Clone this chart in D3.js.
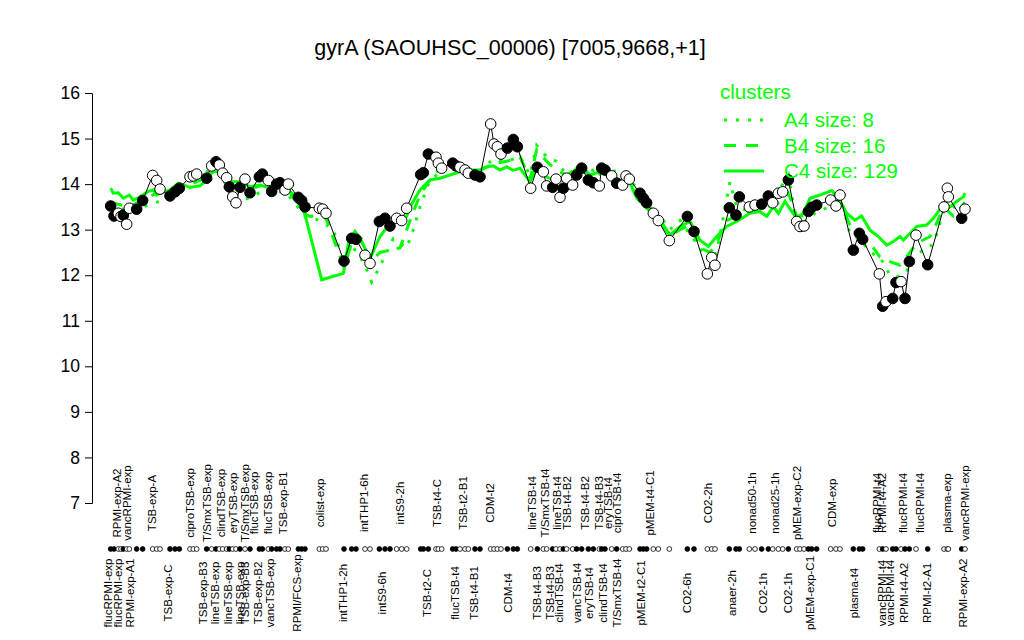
<!DOCTYPE html>
<html><head><meta charset="utf-8">
<script src="https://cdn.jsdelivr.net/npm/d3@7"></script>
<style>body{margin:0;background:#fff}svg{display:block}text{font-family:"Liberation Sans",Arial,Helvetica,sans-serif}</style>
</head><body>
<svg id="c" width="1024" height="640"></svg>
<script>
// sample positions (ordered condition index with gaps between groups)
const samplePos = [3.2,4.2,5.5,6.3,7.0,8.0,8.8,11.0,12.8,15.8,17.0,18.0,21.0,22.5,23.8,27.0,28.0,29.0,32.0,33.5,34.8,35.8,36.8,38.0,38.8,39.8,40.8,42.0,43.5,45.0,47.8,48.7,50.5,51.5,53.0,54.0,55.5,56.5,59.5,60.5,61.5,65.8,66.8,67.8,73.2,75.5,76.8,79.5,81.0,83.8,85.5,87.0,89.0,90.5,92.0,96.2,97.0,98.5,100.8,101.5,102.5,105.8,106.8,108.0,109.5,110.5,112.5,114.0,117.2,118.2,119.2,120.3,122.2,124.0,125.2,129.2,131.2,133.0,134.0,135.8,136.8,138.0,139.0,140.0,141.8,143.0,144.5,146.5,148.0,149.8,150.5,151.5,153.5,155.0,156.8,157.8,158.8,162.0,163.0,164.0,166.0,167.5,170.8,176.2,178.2,182.2,183.5,184.5,188.8,190.8,191.8,194.8,196.5,198.5,200.5,201.8,203.5,204.8,206.5,209.0,210.0,211.2,212.5,213.5,215.0,219.2,220.8,222.0,226.0,227.8,228.8,233.8,234.8,235.8,237.8,238.8,240.3,241.5,242.8,244.8,248.3,253.2,254.2,254.5,258.5,259.5];
// gyrA expression (log2)
const sampleValue = [13.52,13.30,13.36,13.29,13.32,13.12,13.47,13.45,13.64,14.19,14.08,13.89,13.74,13.83,13.91,14.16,14.18,14.22,14.13,14.40,14.49,14.42,14.24,14.14,13.94,13.72,13.59,13.93,14.11,13.81,14.16,14.22,14.08,13.84,14.00,14.03,13.87,14.00,13.71,13.64,13.50,13.47,13.45,13.36,12.31,12.81,12.79,12.44,12.26,13.18,13.25,13.08,13.25,13.20,13.47,14.21,14.25,14.66,14.59,14.46,14.35,14.46,14.40,14.37,14.31,14.24,14.20,14.16,15.32,14.88,14.82,14.66,14.79,14.98,14.82,13.91,14.37,14.27,13.96,13.93,14.11,13.71,13.91,14.13,13.98,14.20,14.35,14.09,14.03,13.96,14.35,14.31,14.18,14.02,13.98,14.18,14.11,13.80,13.69,13.59,13.36,13.20,12.76,13.29,12.96,12.03,12.39,12.22,13.48,13.32,13.72,13.50,13.54,13.56,13.74,13.59,13.80,13.83,14.09,13.18,13.07,13.08,13.40,13.49,13.54,13.65,13.52,13.76,12.55,12.92,12.79,12.03,11.32,11.42,11.49,11.84,11.86,11.49,12.30,12.88,12.23,13.50,13.91,13.72,13.25,13.45];
// 1 = filled marker, 0 = open marker
const sampleFilled = [1,1,0,0,1,0,0,1,1,0,0,0,1,1,1,0,0,0,1,0,1,0,0,0,1,0,0,1,0,1,1,1,0,1,1,1,0,0,1,1,1,0,0,0,1,1,1,0,0,1,1,1,0,0,0,1,1,1,0,0,0,1,1,0,0,0,1,1,0,0,0,0,1,1,1,0,1,0,0,1,0,0,1,0,0,1,1,1,1,0,1,1,0,1,0,0,0,1,1,1,0,0,0,1,1,0,0,0,1,1,1,0,0,1,1,0,0,0,1,0,0,0,1,1,1,0,0,0,1,1,1,0,1,0,1,1,0,1,1,0,1,0,0,0,1,0];

// cluster mean profiles
const c4Pos = [3.2,4.0,5.5,7.0,8.8,10.0,12.0,14.5,16.0,17.0,18.0,21.0,23.5,27.0,30.0,32.0,34.0,35.5,39.0,42.0,45.0,48.0,51.0,54.0,57.0,59.0,61.0,66.5,73.0,74.5,76.5,78.5,81.0,84.0,87.0,92.0,93.0,96.0,99.0,102.0,105.0,108.0,111.0,114.0,115.5,118.0,120.0,122.0,124.0,126.0,129.0,131.0,134.0,137.0,140.0,144.0,147.0,150.0,153.0,156.0,159.0,161.0,164.0,168.0,171.0,174.0,177.0,180.0,182.5,185.0,188.0,191.0,195.0,198.0,200.0,202.0,203.5,205.5,207.5,209.0,211.0,213.0,216.0,219.5,221.5,224.0,226.5,228.5,231.0,233.5,236.0,238.0,240.0,241.0,243.0,245.0,248.0,250.0,252.5,254.5,257.0,259.0,259.5];
const c4Value = [13.91,13.80,13.81,13.69,13.76,13.65,13.72,13.84,13.87,13.76,13.80,13.87,14.02,13.93,13.96,14.09,14.30,14.27,14.05,14.05,13.94,13.98,13.91,13.94,13.83,13.72,13.47,11.90,12.04,12.70,12.96,12.74,12.37,12.85,13.14,13.29,13.50,13.87,14.09,14.13,14.20,14.27,14.31,14.31,14.37,14.40,14.31,14.38,14.30,14.35,14.05,14.35,14.16,14.05,14.13,14.42,14.20,14.27,14.16,14.09,14.02,13.69,13.47,13.21,12.88,13.07,13.18,12.77,12.63,12.85,13.07,13.18,13.36,13.40,13.29,13.50,13.36,13.62,13.40,13.25,13.36,13.69,13.76,13.86,13.69,13.36,13.21,13.30,12.99,12.85,12.66,12.74,12.85,12.77,12.92,13.07,13.10,13.25,13.50,13.47,13.62,13.72,13.80];
const b4Pos = [3.2,8.8,12.8,17.0,23.8,29.0,34.8,40.0,45.0,50.0,56.0,61.5,63.0,66.5,68.0,72.0,73.2,76.5,78.5,81.0,84.0,90.0,92.0,94.0,96.0,99.0,102.0,108.0,114.0,118.0,122.0,126.0,129.0,131.0,134.0,137.0,140.0,144.0,148.0,152.0,156.0,159.0,162.0,165.0,168.0,171.0,174.0,177.0,180.0,183.0,185.0,188.0,191.0,195.0,200.0,204.0,206.5,209.0,212.0,215.0,219.0,222.0,225.0,228.0,231.0,234.0,237.0,240.0,242.0,245.0,249.0,251.0,253.0,256.0,259.5];
const b4Value = [13.60,13.50,13.65,13.80,13.95,14.05,14.30,13.95,13.90,14.00,13.90,13.35,13.29,13.33,13.21,12.41,12.19,12.92,12.80,12.30,12.50,12.60,13.00,13.40,13.75,14.10,14.35,14.30,14.30,14.45,14.50,14.60,14.10,14.75,14.50,14.30,14.20,14.35,14.15,14.30,14.05,14.00,13.75,13.50,13.20,12.85,13.00,13.10,12.60,12.50,12.70,13.20,13.30,13.40,13.50,13.60,13.80,13.30,13.30,13.50,13.60,13.60,13.10,12.90,12.70,12.40,12.30,12.22,12.41,12.70,12.85,13.14,13.50,13.30,13.60];
const a4Pos = [3.2,8.8,12.8,17.0,23.8,29.0,34.8,40.0,45.0,50.0,56.0,61.5,66.0,70.0,73.0,76.0,79.0,81.5,84.0,88.0,92.0,94.0,96.0,98.5,102.0,108.0,114.0,118.0,122.0,126.0,129.0,131.0,134.0,137.0,140.0,144.0,148.0,152.0,156.0,159.0,162.0,165.0,168.0,171.0,174.0,177.0,180.0,183.0,185.0,189.0,191.0,195.0,200.0,204.0,206.5,209.0,212.0,215.0,219.0,222.0,225.0,228.0,231.0,234.0,237.0,240.0,242.0,245.0,249.0,251.0,253.0,256.0,259.5];
const a4Value = [13.55,13.40,13.50,13.60,13.80,14.00,14.50,13.60,13.70,13.90,13.80,13.30,13.20,13.00,12.30,12.60,12.30,11.85,12.20,12.80,12.60,13.00,13.50,14.00,14.30,14.35,14.30,14.55,14.50,14.60,14.20,14.85,14.60,14.50,14.20,14.40,14.30,14.40,14.20,14.10,13.80,13.50,13.30,13.00,13.20,12.90,12.60,12.30,12.50,14.05,13.50,13.40,13.60,13.90,14.20,13.10,13.20,13.40,13.50,13.80,12.90,12.80,12.50,12.40,12.00,11.97,12.10,12.48,12.60,12.90,13.40,13.50,13.50];

const yTicks = [7,8,9,10,11,12,13,14,15,16];

const topLabels = ["RPMI-exp-A2","vancRPMI-exp","TSB-exp-A","ciproTSB-exp","T/SmxTSB-exp","clindTSB-exp","eryTSB-exp","T/SmxTSB-exp","flucTSB-exp","flucTSB-exp","TSB-exp-B1","colist-exp","intTHP1-6h","intS9-2h","TSB-t4-C","TSB-t2-B1","CDM-t2","lineTSB-t4","T/SmxTSB-t4","lineTSB-t4","TSB-t4-B2","TSB-t4-B2","TSB-t4-B3","eryTSB-t4","ciproTSB-t4","pMEM-t4-C1","CO2-2h","nonad50-1h","nonad25-1h","pMEM-exp-C2","CDM-exp","flucRPMI-t4","RPMI-t4-A2","flucRPMI-t4","flucRPMI-t4","plasma-exp","vancRPMI-exp"];
const topLabelPos = [5.0,8.2,15.5,27.0,32.0,36.2,40.0,43.5,46.2,50.5,54.8,66.0,79.2,90.0,101.2,109.0,117.0,129.5,133.5,137.0,140.0,145.5,149.8,152.5,155.0,165.0,182.4,195.5,202.5,209.0,219.5,233.0,234.5,241.0,246.0,254.0,259.5];
const bottomLabels = ["flucRPMI-exp","flucRPMI-exp","RPMI-exp-A1","TSB-exp-C","TSB-exp-B3","lineTSB-exp","lineTSB-exp","lineTSB-exp","TSB-exp-B3","TSB-exp-B2","vancTSB-exp","RPMI/FCS-exp","intTHP1-2h","intS9-6h","TSB-t2-C","flucTSB-t4","TSB-t4-B1","CDM-t4","TSB-t4-B3","TSB-t4-B3","clindTSB-t4","vancTSB-t4","eryTSB-t4","clindTSB-t4","T/SmxTSB-t4","pMEM-t2-C1","CO2-6h","anaer-2h","CO2-1h","CO2-1h","pMEM-exp-C1","plasma-t4","vancRPMI-t4","vancRPMI-t4","RPMI-t4-A2","RPMI-t2-A1","RPMI-exp-A2"];
const bottomLabelPos = [2.5,5.5,9.0,20.5,31.0,34.5,38.5,42.0,43.5,47.5,51.0,59.0,73.0,84.5,98.2,106.5,112.2,122.5,131.0,135.0,137.8,143.0,146.8,151.0,155.0,162.2,176.0,189.5,199.0,206.5,213.0,226.2,234.5,237.0,241.2,248.0,259.0];

const clusterNames = ["A4 size: 8","B4 size: 16","C4 size: 129"];
const titleText = "gyrA (SAOUHSC_00006) [7005,9668,+1]";

const svg = d3.select("#c");
const x = d3.scaleLinear().domain([0,260]).range([100,966.67]);
const y = d3.scaleLinear().domain([7,16]).range([503,93]);
const GREEN = "#00ff00";

svg.append("text").attr("x",510).attr("y",55).attr("text-anchor","middle")
  .style("font-size","21.5px").text(titleText);

const yAxis = d3.axisLeft(y).tickValues(yTicks).tickSize(7).tickPadding(5).tickFormat(d3.format("d"));
const ga = svg.append("g").attr("transform","translate(92,0)").call(yAxis);
ga.select(".domain").attr("stroke","#000");
ga.selectAll("text").style("font-size","17.5px").style("font-family","Liberation Sans, Arial, sans-serif");

const line = d3.line().x(d=>x(d[0])).y(d=>y(d[1]));
const mk = (p,v)=>p.map((q,i)=>[q,v[i]]);

svg.append("path").datum(mk(c4Pos,c4Value)).attr("d",line).attr("fill","none").attr("stroke",GREEN).attr("stroke-width",3);
svg.append("path").datum(mk(b4Pos,b4Value)).attr("d",line).attr("fill","none").attr("stroke",GREEN).attr("stroke-width",3).attr("stroke-dasharray","12,10");
svg.append("path").datum(mk(a4Pos,a4Value)).attr("d",line).attr("fill","none").attr("stroke",GREEN).attr("stroke-width",3).attr("stroke-dasharray","3,9");

const pts = samplePos.map((p,i)=>({p, v:sampleValue[i], f:sampleFilled[i]}));
svg.append("path").datum(pts.map(d=>[d.p,d.v])).attr("d",line).attr("fill","none").attr("stroke","#000").attr("stroke-width",1);
svg.append("g").selectAll("circle").data(pts).join("circle")
  .attr("cx",d=>x(d.p)).attr("cy",d=>y(d.v)).attr("r",5.3)
  .attr("fill",d=>d.f?"#000":"#fff").attr("stroke","#000").attr("stroke-width",1);

// rug
svg.append("g").selectAll("circle").data(pts).join("circle")
  .attr("cx",d=>x(d.p)).attr("cy",549).attr("r",2.4)
  .attr("fill",d=>d.f?"#000":"#fff").attr("stroke","#000").attr("stroke-width",0.8);

// labels
svg.append("g").selectAll("text").data(topLabels.map((t,i)=>[t,topLabelPos[i]])).join("text")
  .attr("transform",d=>`translate(${x(d[1])+4},503) rotate(-90)`).attr("text-anchor","middle")
  .style("font-size","11.5px").text(d=>d[0]);
svg.append("g").selectAll("text").data(bottomLabels.map((t,i)=>[t,bottomLabelPos[i]])).join("text")
  .attr("transform",d=>`translate(${x(d[1])+4},593) rotate(-90)`).attr("text-anchor","middle")
  .style("font-size","11.5px").text(d=>d[0]);

// legend
const lg = svg.append("g");
lg.append("text").attr("x",720).attr("y",99).attr("fill",GREEN).style("font-size","20.5px").text("clusters");
const dashes = ["3,9","12,10",null];
clusterNames.forEach((n,i)=>{
  const yy = 120 + i*25.5;
  const l = lg.append("line").attr("x1",724).attr("x2",764).attr("y1",yy).attr("y2",yy).attr("stroke",GREEN).attr("stroke-width",3);
  if(dashes[i]) l.attr("stroke-dasharray",dashes[i]);
  lg.append("text").attr("x",784).attr("y",yy+7).attr("fill",GREEN).style("font-size","20.5px").text(n);
});
</script>
</body></html>
